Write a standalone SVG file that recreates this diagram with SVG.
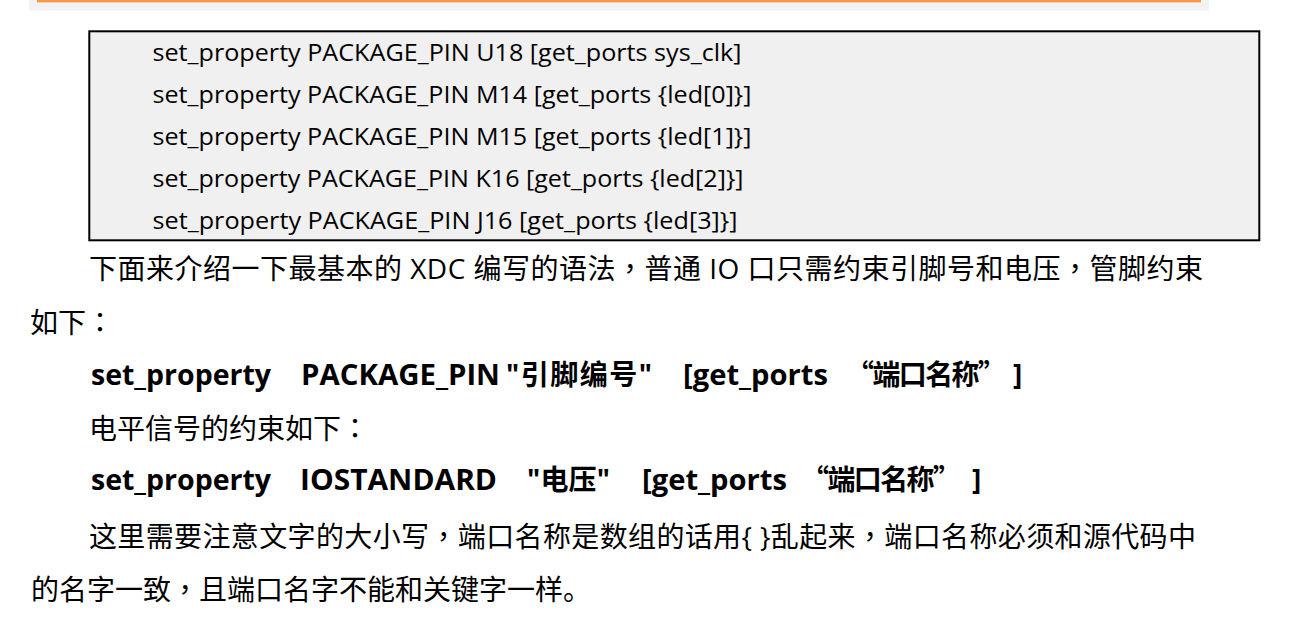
<svg xmlns="http://www.w3.org/2000/svg" width="1314" height="638" viewBox="0 0 1314 638">
<style>
.code{font-family:"Open Sans","Noto Sans CJK SC",sans-serif;font-size:23.5px;fill:#000}
.para{font-family:"Open Sans","Noto Sans CJK SC",sans-serif;font-size:28px;fill:#000}
.bold{font-family:"Open Sans","Noto Sans CJK SC",sans-serif;font-size:28px;font-weight:bold;fill:#000}
.cjq{font-family:"Noto Sans CJK SC",sans-serif}
.pc{font-family:"Noto Sans CJK TC",sans-serif}
</style>
<rect width="1314" height="638" fill="#ffffff"/>
<g id="top-bar">
<rect x="29" y="0" width="1180" height="10.7" fill="#f2f2f2"/>
<rect x="37" y="0" width="1164" height="2.4" fill="#f79646"/>
</g>
<g id="code-box">
<rect x="89.3" y="31.3" width="1170" height="209" fill="#f0f0f0" stroke="#000" stroke-width="2"/>
<text class="code" x="152.5" y="60.5" textLength="589" lengthAdjust="spacingAndGlyphs">set_property PACKAGE_PIN U18 [get_ports sys_clk]</text>
<text class="code" x="152.5" y="102.5" textLength="599" lengthAdjust="spacingAndGlyphs">set_property PACKAGE_PIN M14 [get_ports {led[0]}]</text>
<text class="code" x="152.5" y="144.5" textLength="599" lengthAdjust="spacingAndGlyphs">set_property PACKAGE_PIN M15 [get_ports {led[1]}]</text>
<text class="code" x="152.5" y="186.5" textLength="591" lengthAdjust="spacingAndGlyphs">set_property PACKAGE_PIN K16 [get_ports {led[2]}]</text>
<text class="code" x="152.5" y="228.5" textLength="585" lengthAdjust="spacingAndGlyphs">set_property PACKAGE_PIN J16 [get_ports {led[3]}]</text>
</g>
<g id="body-text">
<text class="para" x="89" y="279" textLength="1114" lengthAdjust="spacing">下面来介绍一下最基本的 XDC 编写的语法<tspan class="pc">，</tspan>普通 IO 口只需约束引脚号和电压<tspan class="pc">，</tspan>管脚约束</text>
<text class="para" x="30" y="333">如下<tspan class="pc">：</tspan></text>
<text class="bold" y="385"><tspan x="91" textLength="180" lengthAdjust="spacingAndGlyphs">set_property</tspan><tspan x="301" textLength="199" lengthAdjust="spacingAndGlyphs">PACKAGE_PIN</tspan><tspan x="506" textLength="146" lengthAdjust="spacing">"引脚编号"</tspan><tspan x="683" textLength="145" lengthAdjust="spacingAndGlyphs">[get_ports</tspan><tspan class="cjq" x="846" textLength="160" lengthAdjust="spacing">“端口名称”</tspan><tspan x="1013">]</tspan></text>
<text class="para" x="89" y="439">电平信号的约束如下<tspan class="pc">：</tspan></text>
<text class="bold" y="489.5"><tspan x="91" textLength="180" lengthAdjust="spacingAndGlyphs">set_property</tspan><tspan x="300" textLength="197" lengthAdjust="spacingAndGlyphs">IOSTANDARD</tspan><tspan x="527" textLength="83" lengthAdjust="spacing">"电压"</tspan><tspan x="642" textLength="145" lengthAdjust="spacingAndGlyphs">[get_ports</tspan><tspan class="cjq" x="801" textLength="160" lengthAdjust="spacing">“端口名称”</tspan><tspan x="972">]</tspan></text>
<text class="para" x="89" y="546.5" textLength="1107" lengthAdjust="spacing">这里需要注意文字的大小写<tspan class="pc">，</tspan>端口名称是数组的话用{ }乱起来<tspan class="pc">，</tspan>端口名称必须和源代码中</text>
<text class="para" x="31" y="599.5">的名字一致<tspan class="pc">，</tspan>且端口名字不能和关键字一样。</text>
</g>
</svg>
